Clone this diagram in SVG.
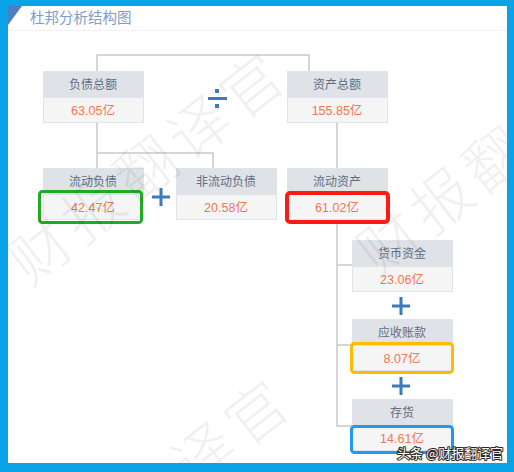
<svg xmlns="http://www.w3.org/2000/svg" width="514" height="472" viewBox="0 0 514 472">
<style>
.hd{fill:#dfe2e6;stroke:#dde4ee;stroke-width:1}
.vl{fill:#f5f5f6;stroke:#dde4ee;stroke-width:1}
.ht{font-family:"Noto Sans CJK SC","Liberation Sans",sans-serif;font-size:12px;fill:#5f6e84;text-anchor:middle}
.vt{font-family:"Liberation Sans","Noto Sans CJK SC",sans-serif;font-size:12.5px;fill:#f0784e;text-anchor:middle}
.ln{fill:none;stroke:#c9c9c9;stroke-width:1.5}
.op{stroke:#3c7abd;stroke-width:3;fill:none}
.wm{font-family:"Noto Sans CJK SC",serif;font-size:60px;font-weight:300;letter-spacing:7px;fill:#000;fill-opacity:0.06;text-anchor:middle}
</style>
<rect x="0" y="0" width="514" height="472" fill="#ffffff"/>
<line x1="8" y1="30.5" x2="507" y2="30.5" stroke="#eef2f6" stroke-width="1"/>
<polygon points="8,6 22,6 8,25" fill="#4b7fc1"/>
<text x="30" y="23" font-family="Noto Sans CJK SC,sans-serif" font-size="14.5" fill="#7d9dc6">杜邦分析结构图</text>

<g id="connectors">
<polyline class="ln" points="97,71 97,55 309,55 309,71"/>
<line class="ln" x1="97" y1="123" x2="97" y2="169"/>
<polyline class="ln" points="97,153 213,153 213,168"/>
<line class="ln" x1="337" y1="123" x2="337" y2="168"/>
<polyline class="ln" points="337,220 337,426 352,426"/>
<line class="ln" x1="337" y1="265" x2="352" y2="265"/>
<line class="ln" x1="337" y1="345" x2="352" y2="345"/>
</g>

<g id="ops">
<line class="op" x1="208" y1="98.5" x2="227" y2="98.5"/>
<rect x="215" y="89" width="4" height="4" fill="#3c7abd"/>
<rect x="215" y="104" width="4" height="4" fill="#3c7abd"/>
<path class="op" d="M152,197H170M161,188V206"/>
<path class="op" d="M392,306H410M401,297V315"/>
<path class="op" d="M392,386H410M401,377V395"/>
</g>

<g id="n-fzze">
<rect class="hd" x="43.5" y="71.5" width="100" height="26"/>
<rect class="vl" x="43.5" y="97.5" width="100" height="25"/>
<text class="ht" x="93" y="88.5">负债总额</text>
<text class="vt" x="93" y="114.5">63.05亿</text>
</g>
<g id="n-zcze">
<rect class="hd" x="287.5" y="71.5" width="100" height="26"/>
<rect class="vl" x="287.5" y="97.5" width="100" height="25"/>
<text class="ht" x="337" y="88.5">资产总额</text>
<text class="vt" x="337" y="114.5">155.85亿</text>
</g>
<g id="n-ldfz">
<rect class="hd" x="43.5" y="168.5" width="100" height="26"/>
<rect class="vl" x="43.5" y="194.5" width="100" height="25"/>
<text class="ht" x="93" y="185.5">流动负债</text>
<text class="vt" x="93" y="211.5">42.47亿</text>
<rect x="39.5" y="191.5" width="102" height="31" rx="3" fill="none" stroke="#22aa22" stroke-width="3"/>
</g>
<g id="n-fldfz">
<rect class="hd" x="176.5" y="168.5" width="100" height="26"/>
<rect class="vl" x="176.5" y="194.5" width="100" height="25"/>
<text class="ht" x="226" y="185.5">非流动负债</text>
<text class="vt" x="226" y="211.5">20.58亿</text>
</g>
<g id="n-ldzc">
<rect class="hd" x="287.5" y="168.5" width="100" height="26"/>
<rect class="vl" x="287.5" y="194.5" width="100" height="25"/>
<text class="ht" x="337" y="185.5">流动资产</text>
<text class="vt" x="337" y="211.5">61.02亿</text>
<rect x="287" y="193" width="101" height="29" rx="3" fill="none" stroke="#ff1a1a" stroke-width="4"/>
</g>
<g id="n-hbzj">
<rect class="hd" x="352.5" y="240.5" width="100" height="26"/>
<rect class="vl" x="352.5" y="266.5" width="100" height="25"/>
<text class="ht" x="402" y="257.5">货币资金</text>
<text class="vt" x="402" y="283.5">23.06亿</text>
</g>
<g id="n-yszk">
<rect class="hd" x="352.5" y="319.5" width="100" height="26"/>
<rect class="vl" x="352.5" y="345.5" width="100" height="25"/>
<text class="ht" x="402" y="336.5">应收账款</text>
<text class="vt" x="402" y="362.5">8.07亿</text>
<rect x="351.5" y="343.5" width="101" height="29" rx="3" fill="none" stroke="#ffbb00" stroke-width="3"/>
</g>
<g id="n-ch">
<rect class="hd" x="352.5" y="399.5" width="100" height="26"/>
<rect class="vl" x="352.5" y="425.5" width="100" height="25"/>
<text class="ht" x="402" y="416.5">存货</text>
<text class="vt" x="402" y="442.5">14.61亿</text>
<rect x="351.5" y="426.5" width="101" height="26" rx="3" fill="none" stroke="#2299ee" stroke-width="3"/>
</g>

<g id="watermark">
<text class="wm" transform="translate(162,184) rotate(-38)">财报翻译官</text>
<text class="wm" transform="translate(458,216) rotate(-38)">财报翻</text>
<text class="wm" transform="translate(246,449) rotate(-38)">译官</text>
</g>

<path d="M0,0H514V472H0Z M8,6V463H507V6Z" fill="#0aa3e8" fill-rule="evenodd"/>
<text x="397" y="458" font-family="Noto Sans CJK SC,sans-serif" font-size="13" fill="#ffffff" stroke="#2a2a2a" stroke-width="2" paint-order="stroke" stroke-linejoin="round">头条 @财报翻译官</text>
</svg>
